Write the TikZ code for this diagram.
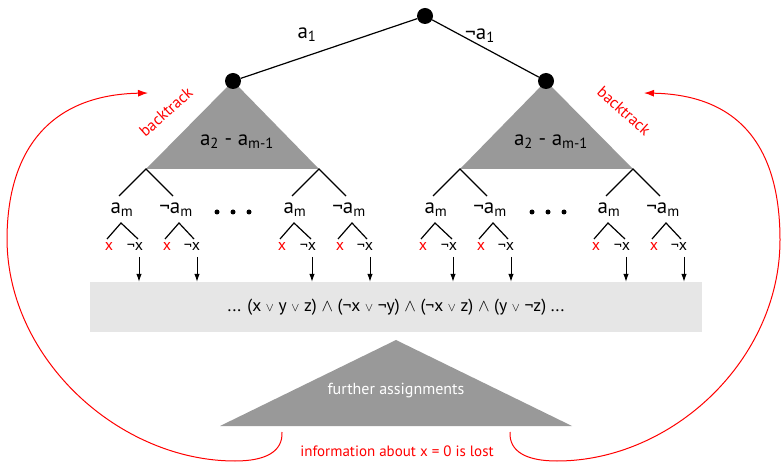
\documentclass[tikz,border=0pt]{standalone}
\usepackage{fontspec}
\setmainfont{PT Sans}
\usetikzlibrary{arrows.meta}
\definecolor{trigray}{HTML}{999999}
\definecolor{boxgray}{HTML}{E6E6E6}
\begin{document}
\begin{tikzpicture}[x=1pt,y=-1pt,
  dot/.style={circle,fill=black,inner sep=0pt,minimum size=16pt},
  smalldot/.style={circle,fill=black,inner sep=0pt,minimum size=5pt},
  edge/.style={line width=1.2pt},
  big/.style={font=\fontsize{21}{24}\selectfont,inner sep=0pt},
  lit/.style={font=\fontsize{16}{18}\selectfont,inner sep=0pt},
  form/.style={font=\fontsize{17.5}{21}\selectfont,inner sep=0pt},
  bt/.style={font=\fontsize{16}{18}\selectfont,inner sep=0pt,text=red},
  arr/.style={line width=1pt,-{Latex[length=8pt,width=5.5pt]}},
  redarr/.style={red,line width=1pt,-{Latex[length=10pt,width=7pt]}},
]
\useasboundingbox (0,0) rectangle (782,462);

% sub-tree triangles
\fill[trigray] (233,81) -- (319,169) -- (146,169) -- cycle;
\fill[trigray] (546,81) -- (633,169) -- (460,169) -- cycle;
\node[big] (tl) at (237,142) {a\textsubscript{2} - a\textsubscript{m-1}};
\node[big] (tr) at (551,142) {a\textsubscript{2} - a\textsubscript{m-1}};

% top of the tree
\node[dot] (root) at (425,16) {};
\node[dot] (L) at (233,81) {};
\node[dot] (R) at (546,81) {};
\draw[edge] (root) -- (L);
\draw[edge] (root) -- (R);
\node[big] (la1) at (307,35) {a\textsubscript{1}};
\node[big] (ra1) at (480,36) {¬a\textsubscript{1}};

% formula box
\node[fill=boxgray,minimum width=612pt,minimum height=50pt,inner sep=0pt] (box) at (396,307) {};
\node[form] (formula) at (396,307) {... (x ${\scriptstyle\vee}$ y ${\scriptstyle\vee}$ z) $\wedge$ (¬x ${\scriptstyle\vee}$ ¬y) $\wedge$ (¬x ${\scriptstyle\vee}$ z) $\wedge$ (y ${\scriptstyle\vee}$ ¬z) ...};

% leaf groups
\foreach \P/\n in {146/a,319/b,460/c,633/d}{
  \coordinate (top\n) at (\P,169);
  \coordinate (ul\n) at (\P-27,196);
  \coordinate (ur\n) at (\P+27,196);
  \draw[edge] (ul\n) -- (top\n) -- (ur\n);
  \node[big] (am\n) at (\P-24,210) {a\textsubscript{m}};
  \node[big] (nam\n) at (\P+30,210) {¬a\textsubscript{m}};
  \coordinate (sa\n) at (\P-25,223);
  \coordinate (sal\n) at (\P-39,239);
  \coordinate (sar\n) at (\P-8,239);
  \draw[edge] (sal\n) -- (sa\n) -- (sar\n);
  \coordinate (sb\n) at (\P+33,223);
  \coordinate (sbl\n) at (\P+19,239);
  \coordinate (sbr\n) at (\P+48,239);
  \draw[edge] (sbl\n) -- (sb\n) -- (sbr\n);
  \node[lit,text=red] (xa\n) at (\P-37,247) {x};
  \node[lit] (nxa\n) at (\P-11,247) {¬x};
  \node[lit,text=red] (xb\n) at (\P+21,247) {x};
  \node[lit] (nxb\n) at (\P+46,247) {¬x};
  \coordinate (aa\n) at (\P-7,257);
  \coordinate (ab\n) at (\P+51,257);
  \draw[arr] (aa\n) -- (aa\n |- box.north);
  \draw[arr] (ab\n) -- (ab\n |- box.north);
}

% ellipsis dots
\foreach \M/\n in {233/l,548/r}{
  \node[smalldot] (d1\n) at (\M-16,212) {};
  \node[smalldot] (d2\n) at (\M,212) {};
  \node[smalldot] (d3\n) at (\M+16,212) {};
}

% further assignments
\fill[trigray] (396,340) -- (572,426) -- (220,426) -- cycle;
\node[font=\fontsize{16}{18}\selectfont,text=white,inner sep=0pt] (fa) at (396,391) {further assignments};
\node[font=\fontsize{15}{18}\selectfont,text=red,inner sep=0pt] (info) at (397,451) {information about x = 0 is lost};

% backtrack arcs
\coordinate (ls) at (282,432);
\coordinate (lt) at (148,93);
\coordinate (rs) at (510,432);
\coordinate (rt) at (644,93);
\draw[redarr] (ls) .. controls (283,452) and (265,461) .. (235,461)
  .. controls (120,461) and (8,360) .. (7,240)
  .. controls (7,150) and (50,95) .. (lt);
\draw[redarr] (rs) .. controls (509,452) and (527,461) .. (557,461)
  .. controls (672,461) and (780,360) .. (780,240)
  .. controls (780,150) and (742,95) .. (rt);
\node[bt,rotate=42] (btl) at (166,112) {backtrack};
\node[bt,rotate=-42] (btr) at (624,111) {backtrack};
\end{tikzpicture}
\end{document}
